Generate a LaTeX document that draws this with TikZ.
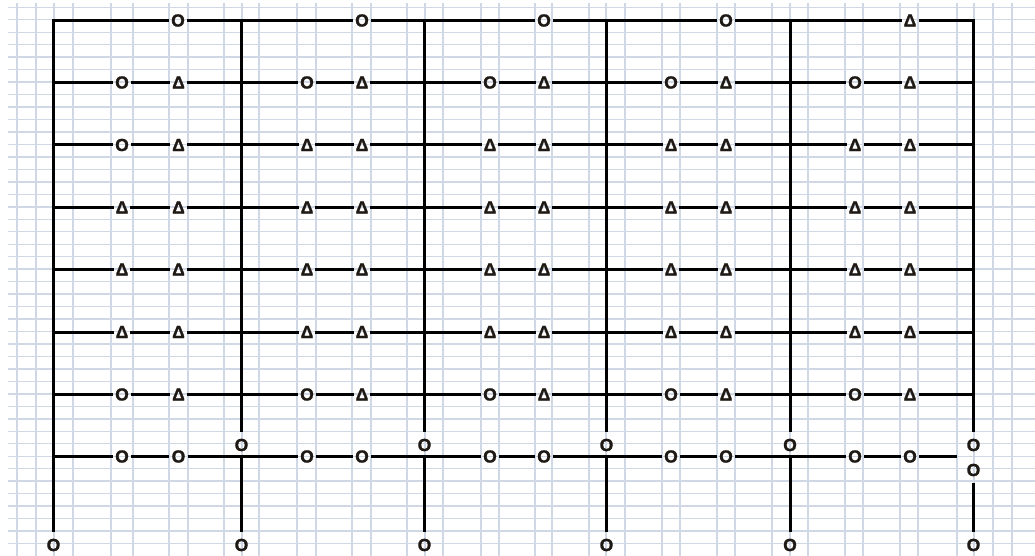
\documentclass[tikz,border=0pt]{standalone}
\usepackage{fontspec}
\newfontfamily\symfont{Liberation Sans Bold}[FakeBold=1.3]
\usetikzlibrary{positioning}
\definecolor{gridblue}{HTML}{D0D7E5}
\definecolor{inkdark}{RGB}{30,25,20}
\tikzset{
	cell/.style = {gridblue,line width=1.4pt},
	wire/.style = {black,line width=3pt},
	sym/.style  = {inner xsep=2pt,inner ysep=1pt,text=inkdark,
		font=\symfont\fontsize{17.5}{19}\selectfont},
	vsym/.style = {sym,inner ysep=6.5pt},
}

\begin{document}
\begin{tikzpicture}[x=1pt,y=-1pt]
	\fill[white] (0,0) rectangle (1035,556);
	\useasboundingbox (0,0) rectangle (1035,556);
	
	%% Grille
	\foreach \gx in {17,36,54,73,111,133,169,188,224,242,259,297,316,352,371,407,
		425,443,481,499,535,552,589,606,625,662,680,717,735,772,790,808,845,863,
		900,918,957,974,993,1012}
	\draw[cell] (\gx,3) -- (\gx,556);
	\foreach \k in {0,...,43}
	\draw[cell] (8,{7.3+12.47*\k}) -- (1035,{7.3+12.47*\k});
	
	%% Poteaux
	\foreach \x [count=\i from 0] in {53.5,241.5,424.5,606.5,790,973.5} {
		\coordinate (t\i) at (\x,20.5);
		\coordinate (c\i) at (\x,456.5);
		\node (b\i) [vsym] at (\x,545) {O};
	}
	\foreach \x [count=\i] in {241.5,424.5,606.5,790,973.5}
	\node (m\i) [vsym] at (\x,445) {O};
	\node (n5) [vsym] at (973.5,470) {O};
	
	%% Ligne du haut
	\foreach \x/\s [count=\i] in {178/O,362/O,544/O,726/O,910/Δ}
	\node (a\i) [sym] at (\x,20.5) {\s};
	
	%% Rangees
	\foreach \y [count=\r] in {82.5,145,207.5,269.5,332,394.5,456.5} {
		\coordinate (l\r) at (53.5,\y);
		\coordinate (r\r) at (973.5,\y);
	}
	\coordinate (e7) at (957,456.5);
	\foreach \syms [count=\r] in {
		{O,Δ,O,Δ,O,Δ,O,Δ,O,Δ},
		{O,Δ,Δ,Δ,Δ,Δ,Δ,Δ,Δ,Δ},
		{Δ,Δ,Δ,Δ,Δ,Δ,Δ,Δ,Δ,Δ},
		{Δ,Δ,Δ,Δ,Δ,Δ,Δ,Δ,Δ,Δ},
		{Δ,Δ,Δ,Δ,Δ,Δ,Δ,Δ,Δ,Δ},
		{O,Δ,O,Δ,O,Δ,O,Δ,O,Δ},
		{O,O,O,O,O,O,O,O,O,O}} {
		\pgfmathsetmacro\yy{{82.5,145,207.5,269.5,332,394.5,456.5}[\r-1]}
		\foreach \s [count=\c] in \syms {
			\pgfmathsetmacro\xx{{122,178.5,307,362,490,544,671,726,855,910}[\c-1]}
			\node (s\r-\c) [sym] at (\xx,\yy) {\s};
		}
	}
	
	%% Traits
	\draw[wire] (b0) -- (t0) -- (a1) -- (a2) -- (a3) -- (a4) -- (a5) -- (t5) -- (m5);
	\foreach \i in {1,...,4} {
		\draw[wire] (t\i) -- (m\i);
		\draw[wire] (c\i) -- (b\i);
	}
	\draw[wire] (n5) -- (b5);
	\foreach \r in {1,...,7} {
		\draw[wire] (l\r) -- (s\r-1);
		\foreach \c [count=\d from 2] in {1,...,9}
		\draw[wire] (s\r-\c) -- (s\r-\d);
	}
	\foreach \r in {1,...,6} \draw[wire] (s\r-10) -- (r\r);
	\draw[wire] (s7-10) -- (e7);
\end{tikzpicture}
\end{document}
